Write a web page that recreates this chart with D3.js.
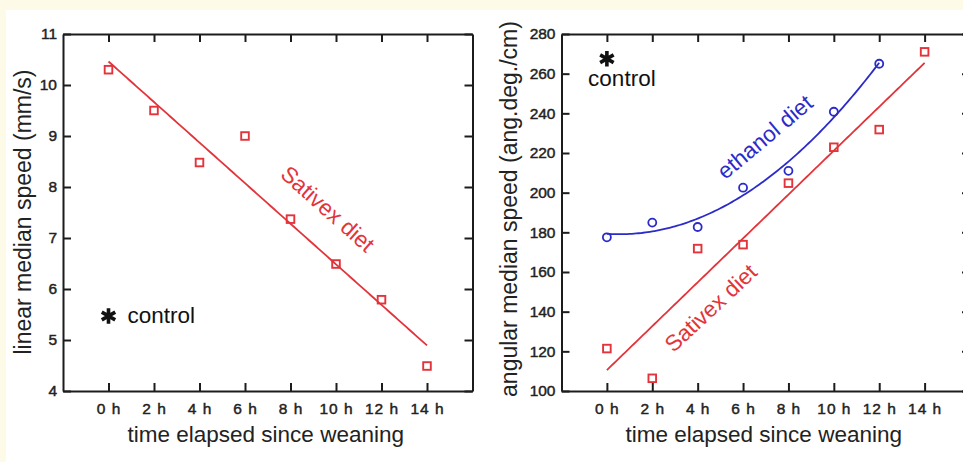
<!DOCTYPE html>
<html>
<head>
<meta charset="utf-8">
<script src="https://cdn.jsdelivr.net/npm/d3@7"></script>
<style>
  html, body { margin: 0; padding: 0; background: #fdfae8; }
  svg { display: block; }
  text { font-family: "Liberation Sans", Arial, sans-serif; }
</style>
</head>
<body>
<svg id="chart" width="963" height="462"></svg>
<script>
// hours since weaning
var hours = [0, 2, 4, 6, 8, 10, 12, 14];
var hoursEthanol = [0, 2, 4, 6, 8, 10, 12];
var xTicks = [0, 2, 4, 6, 8, 10, 12, 14];

// left panel: linear median speed (mm/s), Sativex diet
var linearSativex = [10.3, 9.5, 8.48, 9.0, 7.37, 6.49, 5.79, 4.49];
var linearTicks = [4, 5, 6, 7, 8, 9, 10, 11];
var linearControl = [0, 5.47];

// right panel: angular median speed (ang.deg./cm)
var angularSativex = [121.4, 106.4, 171.8, 173.8, 204.8, 222.9, 231.8, 271];
var angularEthanol = [177.5, 184.9, 182.7, 202.5, 211, 240.8, 265];
var angularTicks = [100, 120, 140, 160, 180, 200, 220, 240, 260, 280];
var angularControl = [0, 267.5];

var RED = "#e2343a", BLUE = "#2b2bc9", INK = "#1c1c1c";

var svg = d3.select("#chart");
svg.append("rect").attr("x", 6).attr("y", 10).attr("width", 957).attr("height", 452).attr("fill", "#fff");

// least squares polynomial fit (degree 1 or 2)
function polyFit(xs, ys, deg) {
  var n = deg + 1, A = [], b = [];
  for (var i = 0; i < n; i++) {
    A.push([]);
    for (var j = 0; j < n; j++) A[i].push(d3.sum(xs, function(x) { return Math.pow(x, i + j); }));
    b.push(d3.sum(xs, function(x, k) { return ys[k] * Math.pow(x, i); }));
  }
  // gaussian elimination
  for (var c = 0; c < n; c++) {
    for (var r = c + 1; r < n; r++) {
      var f = A[r][c] / A[c][c];
      for (var q = c; q < n; q++) A[r][q] -= f * A[c][q];
      b[r] -= f * b[c];
    }
  }
  var coef = new Array(n);
  for (var r2 = n - 1; r2 >= 0; r2--) {
    var s = b[r2];
    for (var q2 = r2 + 1; q2 < n; q2++) s -= A[r2][q2] * coef[q2];
    coef[r2] = s / A[r2][r2];
  }
  return function(x) { return d3.sum(coef, function(cf, k) { return cf * Math.pow(x, k); }); };
}

function drawPanel(o) {
  var x = d3.scaleLinear().domain([-2, 16]).range(o.xRange);
  var y = d3.scaleLinear().domain(o.yDomain).range([391, 34]);
  var g = svg.append("g");

  var axes = [
    [d3.axisBottom(x).tickValues(xTicks).tickFormat(function(d) { return d + " h"; }).tickPadding(12), 391, null, true],
    [d3.axisTop(x).tickValues(xTicks).tickFormat(""), 34, null],
    [d3.axisLeft(y).tickValues(o.yTicks).tickFormat(d3.format("d")).tickPadding(6), null, o.xRange[0]],
    [d3.axisRight(y).tickValues(o.yTicks).tickFormat(""), null, o.xRange[1]]
  ];
  axes.forEach(function(a) {
    var ag = g.append("g")
      .attr("transform", "translate(" + (a[2] || 0) + "," + (a[1] || 0) + ")")
      .call(a[0].tickSizeInner(-8).tickSizeOuter(0));
    ag.select(".domain").attr("stroke", INK).attr("stroke-width", 2);
    ag.selectAll(".tick line").attr("stroke", INK).attr("stroke-width", 2);
    ag.selectAll(".tick text").attr("fill", "#222").attr("font-size", 15.5)
      .attr("stroke", "#222").attr("stroke-width", 0.45);
    if (a[3]) ag.selectAll(".tick text").attr("letter-spacing", 1);
  });

  g.append("text").attr("x", d3.mean(o.xRange) - 2).attr("y", 442).attr("text-anchor", "middle")
    .attr("font-size", 22.5).attr("fill", "#222").text("time elapsed since weaning");
  g.append("text").attr("transform", "translate(" + o.yLabelX + "," + o.yLabelY + ") rotate(-90)")
    .attr("text-anchor", "middle").attr("font-size", 23).attr("fill", "#222").text(o.yLabel);

  o.series.forEach(function(s) {
    var fit = polyFit(s.xs, s.ys, s.deg);
    var xsFine = d3.range(s.xs[0], s.xs[s.xs.length - 1] + 0.001, 0.1);
    g.append("path").datum(xsFine)
      .attr("fill", "none").attr("stroke", s.color).attr("stroke-width", 1.8)
      .attr("d", d3.line().x(function(d) { return x(d); }).y(function(d) { return y(fit(d)); }));

    var pts = g.selectAll(null).data(s.ys).enter();
    if (s.shape === "square") {
      pts.append("rect")
        .attr("x", function(d, i) { return x(s.xs[i]) - 3.8; })
        .attr("y", function(d) { return y(d) - 3.8; })
        .attr("width", 7.6).attr("height", 7.6)
        .attr("fill", "none").attr("stroke", s.color).attr("stroke-width", 1.9);
    } else {
      pts.append("circle")
        .attr("cx", function(d, i) { return x(s.xs[i]); })
        .attr("cy", function(d) { return y(d); })
        .attr("r", 4)
        .attr("fill", "none").attr("stroke", s.color).attr("stroke-width", 1.8);
    }

    g.append("text")
      .attr("transform", "translate(" + x(s.label[0]) + "," + y(s.label[1]) + ") rotate(" + s.label[2] + ")")
      .attr("text-anchor", "middle").attr("dy", "0.35em")
      .attr("font-size", 22.5).attr("fill", s.color).text(s.label[3]);
  });

  // control marker
  g.append("path")
    .attr("transform", "translate(" + x(o.control[0]) + "," + y(o.control[1]) + ")")
    .attr("d", d3.symbol(d3.symbolAsterisk, 170)())
    .attr("fill", "none").attr("stroke", "#111").attr("stroke-width", 3.6);
  g.append("text").attr("x", x(o.control[0]) + o.controlText[0]).attr("y", y(o.control[1]) + o.controlText[1])
    .attr("text-anchor", o.controlText[2]).attr("font-size", 22.5).attr("fill", "#111").text("control");
}

drawPanel({
  xRange: [63, 472.5],
  yDomain: [4, 11],
  yTicks: linearTicks,
  yLabel: "linear median speed (mm/s)",
  yLabelX: 31, yLabelY: 212,
  control: linearControl,
  controlText: [19, 7, "start"],
  series: [
    { xs: hours, ys: linearSativex, deg: 1, color: RED, shape: "square",
      label: [9.64, 7.57, 41.7, "Sativex diet"] }
  ]
});

drawPanel({
  xRange: [561.5, 970],
  yDomain: [100, 280],
  yTicks: angularTicks,
  yLabel: "angular median speed (ang.deg./cm)",
  yLabelX: 517, yLabelY: 209,
  control: angularControl,
  controlText: [15, 27, "middle"],
  series: [
    { xs: hoursEthanol, ys: angularEthanol, deg: 2, color: BLUE, shape: "circle",
      label: [6.96, 228.1, -40, "ethanol diet"] },
    { xs: hours, ys: angularSativex, deg: 1, color: RED, shape: "square",
      label: [4.57, 141.9, -43, "Sativex diet"] }
  ]
});
</script>
</body>
</html>
